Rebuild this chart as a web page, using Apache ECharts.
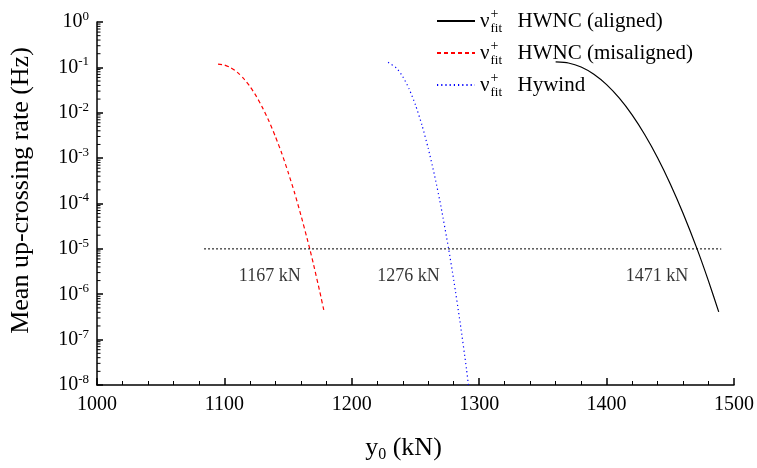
<!DOCTYPE html>
<html>
<head>
<meta charset="utf-8">
<script src="https://cdn.jsdelivr.net/npm/echarts@6/dist/echarts.min.js"></script>
<style>html,body{margin:0;padding:0;background:#fff}#c{width:757px;height:468px}</style>
</head>
<body>
<div id="c"></div>
<script>
// ---- data ----
const seriesNames = ['HWNC (aligned)', 'HWNC (misaligned)', 'Hywind'];
const alignedX = [1360, 1370, 1380, 1390, 1400, 1410, 1420, 1430, 1440, 1450, 1460, 1471, 1480, 1488];
const alignedY = [0.132, 0.125, 0.102, 0.0705, 0.0416, 0.0209, 0.00897, 0.00327, 0.00102, 2.7e-4, 6.1e-5, 1.0e-5, 1.95e-6, 4.1e-7];
const misalignedX = [1095, 1100, 1105, 1110, 1115, 1120, 1125, 1130, 1135, 1140, 1145, 1150, 1155, 1160, 1165, 1167, 1170, 1175, 1178];
const misalignedY = [0.118, 0.113, 0.0985, 0.0785, 0.0573, 0.0381, 0.0232, 0.0128, 0.00652, 0.0030, 0.00128, 4.9e-4, 1.75e-4, 5.6e-5, 1.66e-5, 1.0e-5, 4.5e-6, 1.1e-6, 4.5e-7];
const hywindX = [1228.5, 1235, 1240, 1245, 1250, 1255, 1260, 1265, 1270, 1276, 1280, 1285, 1290, 1291.5];
const hywindY = [0.129, 0.0969, 0.0627, 0.0335, 0.0148, 0.00542, 0.00164, 4.1e-4, 8.5e-5, 1.0e-5, 2.06e-6, 2.4e-7, 2.3e-8, 1.0e-8];
const thresholdX = [1084, 1490];
const thresholdY = [1e-5, 1e-5];
const crossX = [1167, 1276, 1471];
const crossLabels = ['1167 kN', '1276 kN', '1471 kN'];
const xTicks = [1000, 1100, 1200, 1300, 1400, 1500];
const yExponents = [0, -1, -2, -3, -4, -5, -6, -7, -8];
const minorMultipliers = [2, 3, 4, 5, 6, 7, 8, 9];

const FONT = 'Liberation Serif';
const zip = (xs, ys) => xs.map((x, i) => [x, ys[i]]);
const minorTickData = [];
yExponents.forEach(e => { if (e < 0) minorMultipliers.forEach(m => minorTickData.push([xTicks[0], m * Math.pow(10, e)])); });

const chart = echarts.init(document.getElementById('c'), null, {renderer: 'canvas'});
chart.setOption({
  backgroundColor: '#fff',
  animation: false,
  textStyle: {fontFamily: FONT, color: '#000'},
  grid: {left: 93, right: 23, top: 22, bottom: 74, containLabel: false},
  legend: {
    data: seriesNames,
    orient: 'vertical',
    left: 431,
    top: 2,
    itemWidth: 38,
    itemHeight: 14,
    itemGap: 4,
    selectedMode: false,
    itemStyle: {color: 'transparent', borderColor: 'transparent', borderWidth: 0, opacity: 0},
    formatter: name => '{nu|ν}{sp|+}{sb|fit}{t|' + name + '}',
    textStyle: {
      fontFamily: FONT, color: '#000', fontSize: 21, lineHeight: 28,
      rich: {
        nu: {fontFamily: FONT, fontSize: 21, lineHeight: 28, color: '#000', padding: [0, 1, 0, 0]},
        sp: {fontFamily: FONT, fontSize: 14, lineHeight: 15, width: 0, verticalAlign: 'top', color: '#000'},
        sb: {fontFamily: FONT, fontSize: 13, lineHeight: 14, width: 15, verticalAlign: 'bottom', color: '#000'},
        t: {fontFamily: FONT, fontSize: 21, lineHeight: 28, color: '#000', padding: [0, 0, 0, 12]}
      }
    }
  },
  xAxis: {
    type: 'value', min: xTicks[0], max: xTicks[xTicks.length - 1], interval: 100,
    name: '{a|y}{s|0}{a| (kN)}', nameLocation: 'middle', nameGap: 48,
    nameTextStyle: {
      padding: [0, 24, 0, 0],
      rich: {
        a: {fontFamily: FONT, fontSize: 26, color: '#000', lineHeight: 30},
        s: {fontFamily: FONT, fontSize: 16, color: '#000', lineHeight: 16, verticalAlign: 'bottom'}
      }
    },
    axisLine: {lineStyle: {color: '#000', width: 1.5}},
    axisTick: {inside: true, length: 7, lineStyle: {color: '#000', width: 1.5}},
    minorTick: {show: true, splitNumber: 5, length: 4, lineStyle: {color: '#000', width: 1}},
    axisLabel: {fontFamily: FONT, fontSize: 20, color: '#000', margin: 10, formatter: v => String(v)},
    splitLine: {show: false}
  },
  yAxis: {
    type: 'log', logBase: 10, min: 1e-8, max: 1, splitNumber: 8,
    name: 'Mean up-crossing rate (Hz)', nameLocation: 'middle', nameGap: 63, nameRotate: 90,
    nameTextStyle: {fontFamily: FONT, fontSize: 26, color: '#000', padding: [0, 0, 0, 26]},
    axisLine: {show: true, lineStyle: {color: '#000', width: 1.5}},
    axisTick: {inside: true, length: 6, lineStyle: {color: '#000', width: 1.5}},
    axisLabel: {
      margin: 8,
      formatter: v => '{b|10}{s|' + Math.round(Math.log10(v)) + '}',
      rich: {
        b: {fontFamily: FONT, fontSize: 20, color: '#000', lineHeight: 24},
        s: {fontFamily: FONT, fontSize: 13, color: '#000', lineHeight: 13, verticalAlign: 'top'}
      }
    },
    splitLine: {show: false}
  },
  series: [
    {
      name: seriesNames[0], type: 'line', data: zip(alignedX, alignedY),
      symbol: 'none', smooth: 0.2, color: '#000',
      lineStyle: {color: '#000', width: 1.2, type: 'solid'}
    },
    {
      name: seriesNames[1], type: 'line', data: zip(misalignedX, misalignedY),
      symbol: 'none', smooth: 0.2, color: '#ff0000',
      lineStyle: {color: '#ff0000', width: 1.2, type: [4, 3]}
    },
    {
      name: seriesNames[2], type: 'line', data: zip(hywindX, hywindY),
      symbol: 'none', smooth: 0.2, color: '#0000ff',
      lineStyle: {color: '#0000ff', width: 1.2, type: [1.2, 3]}
    },
    {
      name: 'threshold', type: 'line', data: zip(thresholdX, thresholdY),
      symbol: 'none', silent: true,
      lineStyle: {color: '#000', width: 1, type: [2, 2]}
    },
    {
      name: 'crossings', type: 'scatter', symbolSize: 0, silent: true,
      data: crossX.map((x, i) => ({value: [x, thresholdY[0]], label: {formatter: crossLabels[i]}})),
      label: {show: true, position: 'inside', offset: [-40, 27], fontFamily: FONT, fontSize: 18, color: '#000'}
    },
    {
      name: 'yMinorTicks', type: 'custom', silent: true, clip: false,
      data: minorTickData,
      renderItem: (params, api) => {
        const p = api.coord([api.value(0), api.value(1)]);
        return {type: 'line', shape: {x1: p[0], y1: p[1], x2: p[0] + 3.5, y2: p[1]}, style: {stroke: '#000', lineWidth: 1}};
      }
    }
  ]
});
</script>
</body>
</html>
